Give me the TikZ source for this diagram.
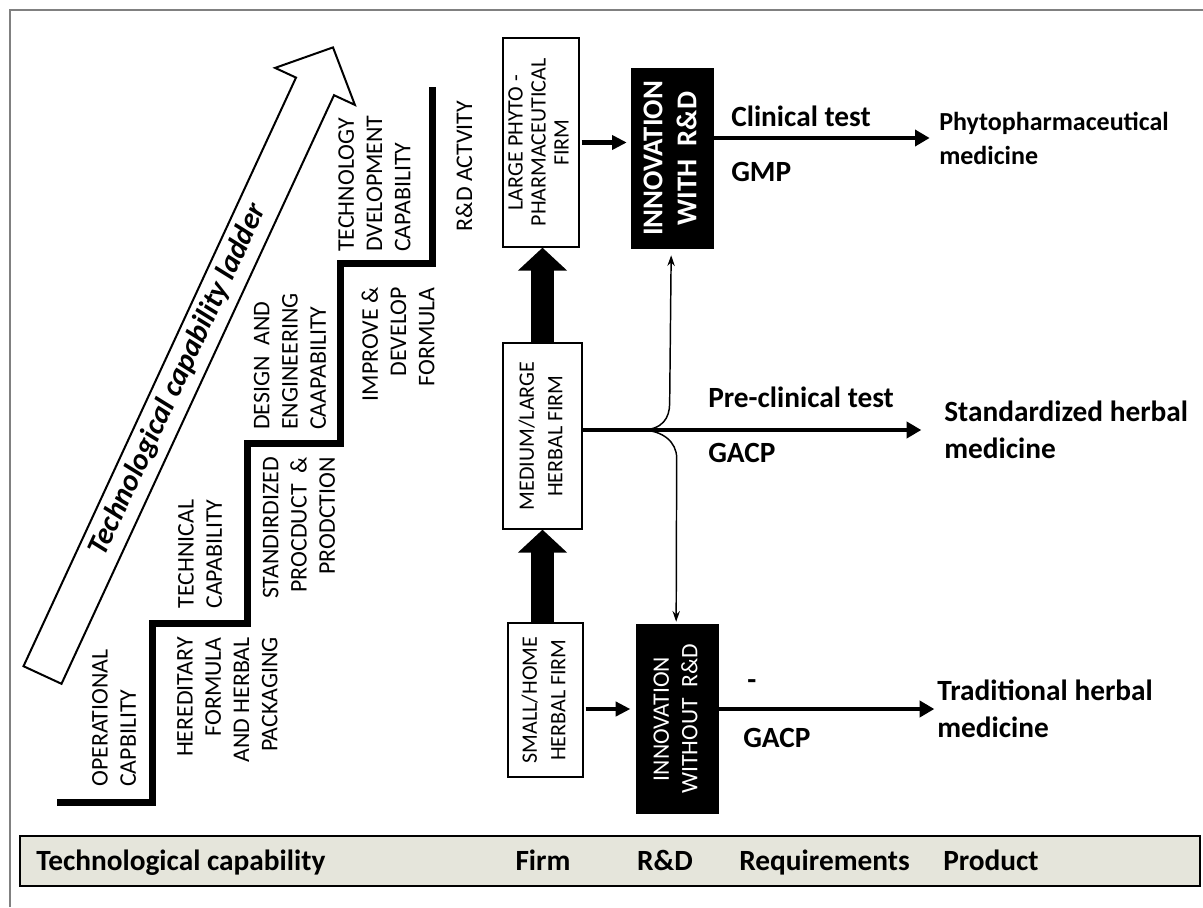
\documentclass[tikz,border=0pt]{standalone}
\usepackage{fontspec}
\setmainfont{Carlito}
\usetikzlibrary{arrows.meta,calc}
\definecolor{barfill}{RGB}{229,229,219}
\definecolor{framegray}{RGB}{128,128,128}
\begin{document}
\begin{tikzpicture}[x=0.75pt,y=-0.75pt,
  stair/.style={rotate=90, inner sep=0pt, font=\fontsize{17.9}{21.2}\selectfont},
  firmbox/.style={draw=black, line width=1pt, fill=white, inner sep=0pt},
  blkbox/.style={fill=black, text=white, inner sep=0pt},
  lbl/.style={anchor=west, inner sep=0pt, font=\bfseries\fontsize{22}{26}\selectfont},
  prod/.style={anchor=west, inner sep=0pt, align=left, font=\bfseries\fontsize{22}{27.75}\selectfont},
  bartxt/.style={inner sep=0pt, font=\bfseries\fontsize{22}{26}\selectfont},
  thickarr/.style={line width=3.6pt, -{Triangle[length=11pt,width=12pt]}},
  firmarr/.style={line width=3.6pt, -{Triangle[length=11pt,width=10.5pt]}},
  thinarr/.style={line width=1.1pt, -{Stealth[length=8pt,width=5.5pt]}},
  blockarr/.style={line width=17.25pt, -{Triangle[length=17.25pt,width=36pt]}}
]
\useasboundingbox (0,0) rectangle (1203,907);
% frame
\draw[framegray, line width=1pt] (10,907) -- (10,10) -- (1203,10);

% big hollow arrow
\draw[line width=1.5pt, fill=white, line join=miter]
  (23.5,666.2) -- (61.5,683.8) -- (334,95.2) -- (354.9,104.9) -- (333,47.4)
  -- (275.1,67.9) -- (296,77.6) -- cycle;
\node[rotate=65.14, inner sep=0pt, font=\bfseries\itshape\fontsize{22.5}{27}\selectfont] (title) at (178,380) {Technological capability ladder};

% staircase
\draw[line width=5.25pt, line join=miter] (57,802) -- (152,802) -- (152,623) -- (247,623)
  -- (247,443) -- (340,443) -- (340,263) -- (432,263) -- (432,87);

% stair texts
\node[stair, anchor=west, align=left] (s1) at (114,787) {OPERATIONAL\\CAPBILITY};
\node[stair, align=center] (s2) at (200,554) {TECHNICAL\\CAPABILITY};
\node[stair, anchor=east, align=right] (s3) at (227.5,637) {HEREDITARY\\FORMULA\\AND HERBAL\\PACKAGING};
\node[stair, anchor=east, align=right] (s4) at (299,457) {STANDIRDIZED\\PROCDUCT~~\&\\PRODCTION};
\node[stair, anchor=west, align=left] (s5) at (290,430) {DESIGN~~AND\\ENGINEERING\\CAAPABILITY};
\node[stair, anchor=east, align=right] (s6) at (398,287) {IMPROVE \&\\DEVELOP\\FORMULA};
\node[stair, anchor=west, align=left] (s7) at (374.5,252) {TECHNOLOGY\\DVELOPMENT\\CAPABILITY};
\node[stair] (s8) at (464,166) {R\&D ACTVITY};

% firm boxes
\node[firmbox, minimum width=57pt, minimum height=156.75pt] (large) at (541,142.5)
  {\rotatebox{90}{\fontsize{16.5}{17.2}\selectfont\begin{tabular}{@{}c@{}}LARGE PHYTO -\\PHARMACEUTICAL\\FIRM\end{tabular}}};
\node[firmbox, minimum width=59.25pt, minimum height=139.5pt] (medium) at (542.5,436)
  {\rotatebox{90}{\fontsize{16.5}{21.4}\selectfont\begin{tabular}{@{}c@{}}MEDIUM/LARGE\\HERBAL FIRM\end{tabular}}};
\node[firmbox, minimum width=56.25pt, minimum height=115.5pt] (small) at (545.5,700)
  {\rotatebox{90}{\fontsize{16.5}{21.4}\selectfont\begin{tabular}{@{}c@{}}SMALL/HOME\\HERBAL FIRM\end{tabular}}};

% innovation boxes
\node[blkbox, minimum width=62.25pt, minimum height=135.75pt] (withbox) at (672.5,158.5)
  {\rotatebox{90}{\bfseries\fontsize{21.5}{25.5}\selectfont\begin{tabular}{@{}c@{}}INNOVATION\\WITH~~R\&D\end{tabular}}};
\node[blkbox, minimum width=62.25pt, minimum height=142.5pt] (without) at (677.5,719)
  {\rotatebox{90}{\fontsize{17.7}{21.4}\selectfont\begin{tabular}{@{}c@{}}INNOVATION\\WITHOUT~~R\&D\end{tabular}}};

% labels
\node[lbl] (clin) at (731,116) {Clinical test};
\node[lbl] (gmp) at (731,172) {GMP};
\node[lbl] (pre) at (708,397) {Pre-clinical test};
\node[lbl] (gacpa) at (708,453) {GACP};
\node[lbl] (dash) at (747,685) {-};
\node[lbl] (gacpb) at (743,738) {GACP};

% products
\node[prod, font=\bfseries\fontsize{19.5}{25.5}\selectfont] (phyto) at (939,138) {Phytopharmaceutical\\medicine};
\node[prod] (std) at (944,430) {Standardized herbal\\medicine};
\node[prod] (trad) at (937,709) {Traditional herbal\\medicine};

% block arrows
\draw[blockarr] (medium.south |- small.north) -- (medium.south);
\draw[blockarr] (medium.north) -- (medium.north |- large.south);

% firm -> innovation
\draw[firmarr, shorten <=1.5pt, shorten >=3pt] (large.east) -- (large.east -| withbox.west);
\coordinate (sa) at ($(small.east)+(0,9)$);
\draw[firmarr, shorten <=1.5pt, shorten >=4pt] (sa) -- (sa -| without.west);

% to products
\draw[thickarr, shorten >=7pt] (withbox.east |- phyto.west) -- (phyto.west);
\draw[thickarr, shorten >=17pt] (medium.east |- std.west) -- (std.west);
\draw[thickarr, shorten >=2pt] (without.east |- trad.west) -- (trad.west);

% branching thin arrows
\coordinate (j) at ($(medium.east |- std.west)+(58,0)$);
\coordinate (ju) at ($(j)+(29,-27)$);
\coordinate (jd) at ($(j)+(36,28)$);
\draw[thinarr] (j) .. controls ($(j)+(22,0)$) and ($(ju)+(0,15)$) .. (ju) -- ([xshift=-1pt,yshift=-4.5pt]withbox.south);
\draw[thinarr] (j) .. controls ($(j)+(22,0)$) and ($(jd)+(0,-16)$) .. (jd) -- ([xshift=-1pt,yshift=1.5pt]without.north);

% bottom bar
\draw[line width=1.5pt, fill=barfill] (20,836) rectangle (1200,886);
\node[bartxt, anchor=base west] (b1) at (36,870) {Technological capability};
\node[bartxt, anchor=base] (b2) at (543,870) {Firm};
\node[bartxt, anchor=base] (b3) at (665,870) {R\&D};
\node[bartxt, anchor=base east] (b4) at (910,870) {Requirements};
\node[bartxt, anchor=base west] (b5) at (943,870) {Product};
\end{tikzpicture}
\end{document}
